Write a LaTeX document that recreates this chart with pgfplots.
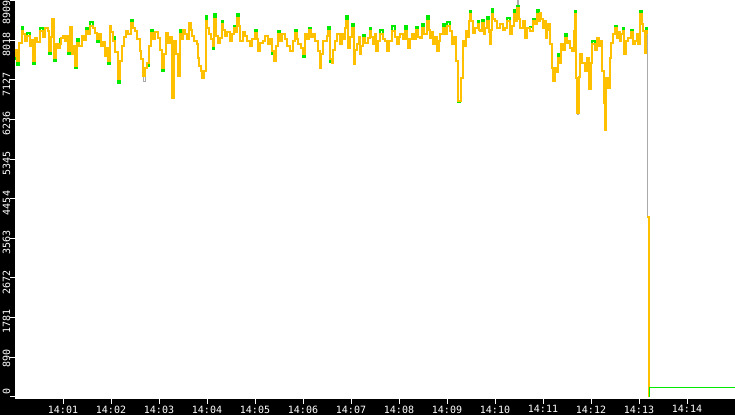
\documentclass[border=0pt]{standalone}
\usepackage{pgfplots}
\usepackage{pgfplotstable}
\pgfplotsset{compat=1.18}
\usepackage{fontspec}
\setmonofont{DejaVu Sans Mono}

\definecolor{ord}{RGB}{255,192,0}
\definecolor{grn}{RGB}{0,235,0}
\definecolor{gry}{RGB}{170,170,170}

% t = seconds after 14:00:00, o = orange, g = green, k = grey
\pgfplotstableread{
t o g k
0 7674 7600 7674
1.2 7800 7800 7800
2.5 7562 7470 7562
5.5 7950 7950 7950
8.75 8236 8320 8236
10.5 8150 8150 8150
12.5 8011 8011 8011
15.5 8120 8180 8120
18.75 7899 7899 7899
20.5 8020 8020 8020
22.5 7562 7480 7562
25 8079 8079 8079
28 7980 7980 7980
31.25 8236 8300 8236
34.5 8100 8100 8100
37.5 8303 8303 8303
41.25 8236 8236 8236
42.5 7787 7700 7787
44.5 8100 8100 8100
46.25 8505 8505 8505
48.75 7629 7560 7629
51.25 7944 7944 7944
53.5 7850 7850 7850
56.25 7944 8040 7944
58 8060 8060 8060
60 8124 8124 8124
62.5 8010 8010 8010
65 8124 8124 8124
66.25 7787 7720 7787
68.75 8326 8326 8326
71.25 7719 7719 7719
73 7900 7900 7900
75 7450 7400 7450
77.5 7966 8050 7966
80.5 7900 7900 7900
83.75 8124 8124 8124
86 8020 8020 8020
88.75 8236 8300 8236
91 8150 8150 8150
94 8350 8420 8350
97.5 8303 8303 8303
100 8180 8180 8180
102.5 8056 7990 8056
105 8150 8150 8150
108 7900 7900 7900
110 7980 7980 7980
112.5 7674 7674 7674
114.5 7850 7850 7850
116.25 7562 7480 7562
118.75 8348 8348 8348
120.5 8200 8200 8200
122.5 8011 8090 8011
125.5 7750 7750 7750
128.75 7158 7050 7158
131.25 7562 7562 7562
133.5 7900 7900 7900
136 8100 8100 8100
138.75 8236 8236 8236
141.5 8150 8150 8150
145 8416 8470 8416
147.5 8300 8300 8300
150 8236 8236 8236
153 8050 8050 8050
156.25 7787 7787 7787
158 7600 7600 7600
160 7225 7225 7100
162.5 7400 7400 7400
165 7517 7440 7517
167.5 7900 7900 7900
170 8191 8260 8191
172.5 8050 8050 8050
175.5 8200 8200 8200
178.75 8079 8079 8079
181 7800 7800 7800
183.75 7405 7330 7405
186 7700 7700 7700
188.75 8191 8191 8191
191 7950 7950 7950
193.5 8100 8100 8100
196.25 6731 6731 6731
198.75 8011 8011 8011
201.25 7719 7719 7719
203.75 7225 7225 7225
206.25 8169 8240 8169
208.5 8050 8050 8050
210.5 8250 8250 8250
212.5 8169 8169 8169
215 8050 8050 8050
217.5 8416 8416 8416
219.5 8250 8250 8250
221.25 8124 8124 8124
224 8000 8000 8000
227.5 7944 7944 7944
228.75 7629 7629 7629
230.5 7450 7450 7450
232.5 7338 7338 7338
233.75 7180 7180 7180
236.25 7338 7338 7338
238.75 8461 8570 8461
240.5 8300 8300 8300
242.5 8169 8169 8169
245 8050 8050 8050
247.5 7899 7830 7899
248.75 8505 8620 8505
251.25 8124 8124 8124
253.5 7950 7950 7950
256.25 8079 8079 8079
258.75 8393 8450 8393
260.5 8250 8250 8250
262.5 8124 8124 8124
265.5 8200 8200 8200
268.75 8011 8011 8011
271 8150 8150 8150
273.75 8303 8350 8303
275.5 8200 8200 8200
277.5 8528 8600 8528
279.5 8350 8350 8350
281.25 8011 8011 8011
284.5 8200 8200 8200
287.5 8124 8124 8124
290.5 8000 8000 8000
293.75 7899 7899 7899
296.5 8050 8050 8050
300 8191 8260 8191
302 8050 8050 8050
303.75 7787 7787 7787
306.5 7950 7950 7950
310 8011 8011 8011
313 8120 8120 8120
316.25 7944 7944 7944
318.5 8050 8050 8050
321.25 7787 7720 7787
323.75 7562 7562 7562
326 7900 7900 7900
328.75 8169 8230 8169
331 8000 8000 8000
334 8150 8150 8150
337.5 8056 8056 8056
340.5 7900 7900 7900
343.75 7787 7787 7787
347 8000 8000 8000
350 8191 8250 8191
352 8050 8050 8050
353.75 7944 7944 7944
357 7850 7850 7850
360 7719 7650 7719
362.5 8169 8169 8169
365 8050 8050 8050
368 8250 8300 8250
370 8100 8100 8100
372.5 8169 8169 8169
375.5 8000 8000 8000
378.75 7787 7787 7787
381.25 7405 7405 7405
383 7700 7700 7700
385 8011 8011 8011
387.5 8011 8011 8011
389.5 8120 8120 8120
391.25 8236 8320 8236
393.75 7607 7520 7607
396.25 7517 7517 7517
398 7800 7800 7800
400 8011 8011 8011
403 8150 8150 8150
406.25 7944 7944 7944
408.75 8169 8169 8169
410.5 8050 8050 8050
412.5 8303 8303 8303
413.75 8461 8570 8461
416.25 7854 7854 7854
418.5 8100 8100 8100
421.25 8303 8380 8303
423.75 7495 7495 7495
425.5 7800 7800 7800
427.5 7944 7944 7944
429.5 8100 8100 8100
431.25 7719 7719 7719
433 7900 7900 7900
435 8079 8140 8079
438 7950 7950 7950
441.25 8079 8079 8079
443.75 8236 8300 8236
445.5 8100 8100 8100
447.5 7944 7944 7944
449.5 8150 8150 8150
451.25 7787 7787 7787
454 8000 8000 8000
456.25 8169 8250 8169
459.5 8050 8050 8050
462.5 8011 8011 8011
465 7787 7787 7787
468 8000 8000 8000
471.25 8236 8350 8236
474.5 8100 8100 8100
477.5 7944 7944 7944
479.5 8100 8100 8100
481.25 8169 8169 8169
484.5 8050 8050 8050
487.5 8236 8330 8236
489.5 8050 8050 8050
491.25 7854 7854 7854
493.5 8050 8050 8050
496.25 8169 8169 8169
498.5 8050 8050 8050
501.5 8250 8320 8250
504 8100 8100 8100
506.25 8079 8079 8079
508.75 8303 8380 8303
511.5 8150 8150 8150
515 8461 8560 8461
517 8250 8250 8250
518.75 8079 8079 8079
520.5 8200 8200 8200
522.5 7944 7944 7944
525 8100 8100 8100
527.5 7787 7787 7787
529.5 8000 8000 8000
531.25 8169 8169 8169
534.5 8300 8380 8300
537.5 8150 8150 8150
540.5 8350 8420 8350
543.75 8236 8236 8236
546.25 7944 7944 7944
549 8100 8100 8100
551.25 7562 7562 7562
553.75 6664 6620 6664
556.25 6664 6664 6664
557.5 7180 7180 7180
560 8011 8011 8011
562 7900 7900 7900
563.75 8236 8236 8236
565.5 8100 8100 8100
567.5 8461 8461 8461
568.75 8618 8680 8618
570.5 8450 8450 8450
572.5 8191 8191 8191
575.5 8300 8300 8300
578.75 8393 8460 8393
580 8250 8250 8250
581.25 8236 8236 8236
584 8400 8470 8400
586.25 8169 8169 8169
588 8300 8300 8300
590 8461 8540 8461
592 8200 8200 8200
593.75 7944 7944 7944
595 8250 8250 8250
596.25 8618 8720 8618
598 8500 8500 8500
600 8461 8461 8461
603 8300 8300 8300
606.25 8393 8393 8393
609.5 8250 8250 8250
612.5 8303 8303 8303
615.5 8450 8520 8450
618.75 8169 8169 8169
621.5 8350 8350 8350
623.75 8618 8700 8618
625.5 8450 8450 8450
627.5 8753 8800 8909
629.5 8500 8500 8500
631.25 8303 8303 8303
634.5 8450 8450 8450
637.5 8079 8079 8079
640.5 8300 8300 8300
643.75 8236 8320 8236
647 8450 8500 8450
650 8393 8393 8393
652.5 8618 8700 8618
654.5 8450 8450 8450
656.25 8640 8640 8640
658 8500 8500 8500
660 8303 8303 8303
662 8450 8450 8450
663.75 8079 8079 8079
665 8250 8250 8250
666.25 8393 8393 8393
668.75 7944 7944 7944
671.25 7405 7405 7405
672.5 7113 7113 7113
675 7405 7405 7405
677 7300 7300 7300
678.75 7629 7700 7629
680.5 7500 7500 7500
682.5 7944 7944 7944
685 7800 7800 7800
687.5 8079 8150 8079
689.5 7950 7950 7950
691.25 8011 8011 8011
694 7850 7850 7850
696.25 7787 7787 7787
698.75 8236 8236 8236
700 8618 8680 8618
701.25 7180 7180 7180
702.5 6372 6420 6350
704.5 7200 7200 7200
706.25 7719 7719 7719
709 7500 7500 7500
712.5 7338 7338 7338
715 7629 7629 7629
717.5 6933 6933 6933
719.5 7500 7500 7500
721.25 7944 8010 7944
724.5 7800 7800 7800
727.5 8079 8079 8079
729.5 7900 7900 7900
731.25 8011 8011 8011
733.75 7338 7338 7338
736.25 6597 6620 6597
737.5 5990 5990 5990
738.75 7180 7180 7180
741.25 6956 6956 6956
743.75 7629 7629 7629
745.5 7950 7950 7950
747.5 8169 8169 8169
750 8300 8350 8300
752.5 8079 8079 8079
754.5 8200 8200 8200
756.25 8011 8011 8011
758 8150 8150 8150
760 8236 8300 8236
761.25 7719 7719 7719
763.5 8000 8000 8000
766.25 8079 8079 8079
769.5 8200 8260 8200
772.5 7944 7944 7944
775 8011 8011 8011
777 8150 8150 8150
778.75 7944 7944 7944
781.25 8618 8680 8618
783.75 8393 8393 8393
785 8236 8236 8236
787.5 7742 7742 7742
788.75 8236 8300 8236
790 8169 8169 8169
790.3 nan nan 8169
790.6 4036 4036 4036
791.9 0 0 0
792.9 nan nan 211
900 nan nan 211
}\rate

% after the drop: one thin green line near zero
\pgfplotstableread{
t g
791.9 0
792.9 211
900 211
}\tail

\begin{document}
\begin{tikzpicture}
\path[use as bounding box] (0,0) rectangle (735pt,415pt);
\fill[black] (0,0) rectangle (735pt,415pt);
\begin{axis}[
    at={(15pt,16pt)}, anchor=south west,
    scale only axis, width=720pt, height=399pt,
    xmin=0, xmax=900, ymin=-50, ymax=8925,
    axis background/.style={fill=white},
    axis line style={draw=none},
    tick align=outside, xtick pos=bottom, ytick pos=left,
    major tick length=5pt,
    tick style={white, line width=1pt},
    xtick={60,120,...,840},
    xticklabels={14:01,14:02,14:03,14:04,14:05,14:06,14:07,14:08,14:09,14:10,14:11,14:12,14:13,14:14},
    ytick={0,890,1781,2672,3563,4454,5345,6236,7127,8018,8909},
    yticklabels={0,890,1781,2672,3563,4454,5345,6236,7127,8018,8909\hspace*{8pt}},
    ticklabel style={font=\ttfamily\fontsize{10}{10}\selectfont, text=white, inner sep=0pt},
    x tick label style={yshift=-1.5pt},
    y tick label style={xshift=-3.5pt, yshift=8pt, rotate=90, anchor=east},
    /pgf/number format/assume math mode=true,
    const plot,
    unbounded coords=jump,
]
\addplot[gry, line width=0.8pt] table[x=t, y=k] {\rate};
\addplot[grn, line width=2pt] table[x=t, y=g] {\rate};
\addplot[ord, line width=2pt] table[x=t, y=o] {\rate};
\addplot[grn, line width=1pt] table[x=t, y=g] {\tail};
\end{axis}
\end{tikzpicture}
\end{document}
